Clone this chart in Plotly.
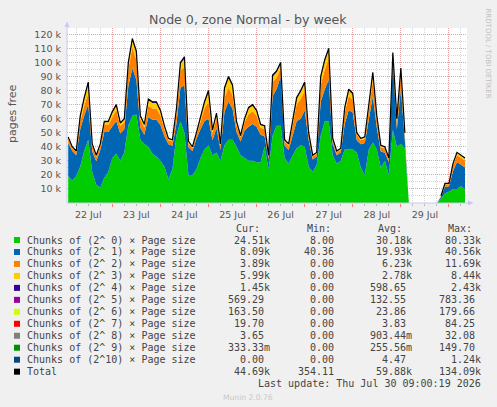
import plotly.graph_objects as go
import pandas as pd

W, H = 497, 407
N = None

# ---- data (thousands of pages), 2-hour samples starting 22 Jul 02:00 ----
times = pd.date_range("2026-07-22 02:00", periods=100, freq="2h")

green_k = [19, 16, 19, 26, 37, 45, 22, 13, 11, 18,
           22, 32, 35, 30, 36, 55, 62, 63, 45, 42,
           40, 35, 33, 30, 26, 17, 24, 48, 58, 50,
           20, 20, 24, 32, 38, 41, 34, 36, 30, 41,
           45, 45, 40, 34, 32, 30, 30, 29, 29, 40,
           24, 48, 55, 55, 32, 28, 34, 39, 41, 40,
           26, 22, 27, 48, 58, 58, 34, 28, 30, 38,
           38, 38, 36, 25, 20, 38, 43, 38, 25, 30,
           20, 52, 40, 42, 39, N, N, N, N, N,
           N, N, N, 3, 7, 8, 10, 10, 12, 10]

blue_k = [23.7, 21.0, 15.0, 26.4, 25.2, 25.0, 14.7, 16.7, 26.7, 32.5,
          28.5, 22.4, 23.3, 19.5, 16.5, 28.0, 33.8, 24.8, 8.5, 6.5,
          21.2, 24.2, 26.2, 25.4, 21.5, 24.7, 16.7, 8.4, 24.0, 33.8,
          19.7, 17.0, 21.7, 20.5, 20.3, 19.0, 10.6, 17.4, 7.7, 24.0,
          27.0, 22.0, 10.5, 9.7, 19.5, 24.2, 26.2, 25.3, 19.5, 7.5,
          7.0, 28.0, 26.0, 35.0, 8.7, 9.7, 14.4, 19.2, 19.0, 26.0,
          18.6, 9.0, 6.0, 24.0, 22.8, 29.8, 7.7, 6.0, 6.0, 18.4,
          28.2, 26.2, 8.6, 16.7, 22.7, 22.3, 33.0, 15.5, 11.7, 5.7,
          9.0, 48.2, 12.5, 39.0, 5.6, N, N, N, N, N,
          N, N, N, 1.2, 4.6, 3.8, 12.6, 19.2, 15.2, 15.2]

orange_k = [3, 2, 2, 6, 7, 8, 4, 3, 3, 5,
            5, 7, 8, 5, 5, 12, 15, 14, 6, 5,
            8, 8, 8, 7, 5, 3, 3, 7, 12, 13,
            3, 2, 3, 6, 9, 12, 5, 7, 3, 10,
            10, 10, 5, 3, 6, 9, 9, 8, 5, 5,
            2, 10, 8, 6, 3, 3, 8, 12, 14, 14,
            4, 2, 2, 12, 14, 15, 3, 2, 2, 8,
            10, 9, 4, 3, 3, 8, 11, 6, 3, 3,
            2, 4, 5, 10, 4, N, N, N, N, N,
            N, N, N, 0.6, 1.8, 1.6, 4, 5, 5, 5]

yellow_k = [1, 0.8, 0.8, 3, 5, 7, 1, 1, 1, 2,
            2, 3, 3, 2, 2, 4, 5, 5, 2, 2,
            4, 4, 4, 3, 2, 1, 1, 3, 5, 6,
            1, 0.8, 1, 3, 4, 7, 2, 3, 1, 6,
            7, 6, 2, 1, 2, 4, 4, 3, 2, 2,
            0.8, 4, 4, 3, 1, 1, 3, 4, 5, 5,
            1, 0.8, 0.8, 5, 6, 6, 1, 0.8, 0.8, 3,
            4, 4, 1, 1, 1, 3, 5, 2, 1, 1,
            0.8, 2, 2, 4, 1, N, N, N, N, N,
            N, N, N, 0.15, 0.5, 0.5, 1.1, 1.5, 1.5, 1.5]

purple_k = [0.3, 0.2, 0.2, 0.6, 0.8, 1, 0.3, 0.3, 0.3, 0.5,
            0.5, 0.6, 0.7, 0.5, 0.5, 1, 1.2, 1.2, 0.5, 0.5,
            0.8, 0.8, 0.8, 0.6, 0.5, 0.3, 0.3, 0.6, 1, 1.2,
            0.3, 0.2, 0.3, 0.5, 0.7, 1, 0.4, 0.6, 0.3, 1,
            1, 1, 0.5, 0.3, 0.5, 0.8, 0.8, 0.7, 0.5, 0.5,
            0.2, 1, 1, 1, 0.3, 0.3, 0.6, 0.8, 1, 1,
            0.4, 0.2, 0.2, 1, 1.2, 1.2, 0.3, 0.2, 0.2, 0.6,
            0.8, 0.8, 0.4, 0.3, 0.3, 0.7, 1, 0.5, 0.3, 0.3,
            0.2, 0.8, 0.5, 1, 0.4, N, N, N, N, N,
            N, N, N, 0.05, 0.1, 0.1, 0.3, 0.3, 0.3, 0.3]

total_k = [47, 40, 37, 62, 75, 86, 42, 34, 42, 58,
           58, 65, 70, 57, 60, 100, 117, 108, 62, 56,
           74, 72, 72, 66, 55, 46, 45, 67, 100, 104,
           44, 40, 50, 62, 72, 80, 52, 64, 42, 82,
           90, 84, 58, 48, 60, 68, 70, 66, 56, 55,
           34, 91, 94, 100, 45, 42, 60, 75, 80, 86,
           50, 34, 36, 90, 102, 110, 46, 37, 39, 68,
           81, 78, 50, 46, 47, 72, 93, 62, 41, 40,
           32, 107, 60, 96, 50, N, N, N, N, N,
           N, N, N, 5, 14, 14, 28, 36, 34, 32]

y_ticks = [10, 20, 30, 40, 50, 60, 70, 80, 90, 100, 110, 120]
y_tick_text = [f"{v} k" for v in y_ticks]

legend_labels = ["Chunks of (2^ 0) \u00d7 Page size", "Chunks of (2^ 1) \u00d7 Page size",
                 "Chunks of (2^ 2) \u00d7 Page size", "Chunks of (2^ 3) \u00d7 Page size",
                 "Chunks of (2^ 4) \u00d7 Page size", "Chunks of (2^ 5) \u00d7 Page size",
                 "Chunks of (2^ 6) \u00d7 Page size", "Chunks of (2^ 7) \u00d7 Page size",
                 "Chunks of (2^ 8) \u00d7 Page size", "Chunks of (2^ 9) \u00d7 Page size",
                 "Chunks of (2^10) \u00d7 Page size", "Total"]
legend_colors = ["#00CC00", "#0066B3", "#FF8000", "#FFCC00", "#330099", "#990099",
                 "#CCFF00", "#FF0000", "#808080", "#008F00", "#00487D", "#000000"]
cur_vals = ["24.51k", "8.09k", "3.89k", "5.99k", "1.45k", "569.29", "163.50", "19.70",
            "3.65", "333.33m", "0.00", "44.69k"]
min_vals = ["8.00", "40.36", "0.00", "0.00", "0.00", "0.00", "0.00", "0.00", "0.00",
            "0.00", "0.00", "354.11"]
avg_vals = ["30.18k", "19.93k", "6.23k", "2.78k", "598.65", "132.55", "23.86", "3.83",
            "903.44m", "255.56m", "4.47", "59.88k"]
max_vals = ["80.33k", "40.56k", "11.69k", "8.44k", "2.43k", "783.36", "179.66", "84.25",
            "32.08", "149.70", "1.24k", "134.09k"]
headers = ["Cur:", "Min:", "Avg:", "Max:"]

# ---- figure ----
def px(x):
    return x / W

def py(y):
    return 1 - y / H

fig = go.Figure()
series = [(green_k, "#00CC00"), (blue_k, "#0066B3"), (orange_k, "#FF8000"),
          (yellow_k, "#FFCC00"), (purple_k, "#330099")]
for vals, col in series:
    fig.add_trace(go.Scatter(x=times, y=vals, mode="lines", stackgroup="a",
                             line=dict(width=0, color=col), fillcolor=col,
                             showlegend=False, hoverinfo="skip"))
fig.add_trace(go.Scatter(x=times, y=total_k, mode="lines",
                         line=dict(width=1.2, color="#000000"), showlegend=False,
                         connectgaps=False, hoverinfo="skip"))

x_left, x_right, y_top, y_bot = 67, 467, 28, 203
ymax = (y_bot - y_top) / 14.06 * 10

fig.update_layout(
    width=W, height=H, margin=dict(l=0, r=0, t=0, b=0),
    paper_bgcolor="#F0F0F0", plot_bgcolor="#FFFFFF",
    font=dict(family="DejaVu Sans", color="#555555"),
    xaxis=dict(domain=[px(x_left), px(x_right)], type="date",
               range=["2026-07-22 01:24", "2026-07-30 09:00"],
               tick0="2026-07-22", dtick=86400000, ticklabelmode="period",
               tickformat="%d %b", tickfont=dict(size=9.5, color="#555555"),
               ticks="outside", ticklen=3, tickcolor="#FF8080",
               showgrid=True, gridcolor="#E9A0A0", griddash="1px,1px", gridwidth=1,
               minor=dict(dtick=21600000, showgrid=True, gridcolor="#D6D6D6",
                          griddash="1px,1px", ticks="outside", ticklen=2,
                          tickcolor="#BBBBBB"),
               showline=False, zeroline=False, fixedrange=True),
    yaxis=dict(domain=[py(y_bot), py(y_top)], range=[0, ymax],
               tickvals=y_ticks, ticktext=y_tick_text,
               tickfont=dict(size=9.5, color="#555555"), ticks="",
               ticklabelstandoff=5,
               showgrid=True, gridcolor="#E9A0A0", griddash="1px,1px", gridwidth=1,
               minor=dict(dtick=5, tick0=0, showgrid=True, gridcolor="#D6D6D6",
                          griddash="1px,1px"),
               showline=False, zeroline=False, fixedrange=True),
)

shapes = []
axis_col = "#C8C8F0"
shapes.append(dict(type="line", xref="paper", yref="paper", x0=px(x_left), x1=px(x_left),
                   y0=py(y_bot), y1=py(24), line=dict(color=axis_col, width=1)))
shapes.append(dict(type="line", xref="paper", yref="paper", x0=px(x_left), x1=px(470),
                   y0=py(y_bot), y1=py(y_bot), line=dict(color=axis_col, width=1)))
shapes.append(dict(type="path", xref="paper", yref="paper",
                   path=f"M {px(64.5)} {py(27)} L {px(69.5)} {py(27)} L {px(67)} {py(21.5)} Z",
                   fillcolor=axis_col, line=dict(width=0)))
shapes.append(dict(type="path", xref="paper", yref="paper",
                   path=f"M {px(468)} {py(200.5)} L {px(468)} {py(205.5)} L {px(473.5)} {py(203)} Z",
                   fillcolor=axis_col, line=dict(width=0)))

def ann(text, x, y, xa="center", font=None, angle=0):
    return dict(text=text, x=px(x), y=py(y), xref="paper", yref="paper", showarrow=False,
                xanchor=xa, yanchor="middle", textangle=angle, font=font, borderpad=0)

annotations = []
annotations.append(ann("Node 0, zone Normal - by week", 248, 19,
                       font=dict(size=12.6, color="#555555", family="DejaVu Sans")))
annotations.append(ann("pages free", 12, 114, angle=-90,
                       font=dict(size=11, color="#555555", family="DejaVu Sans")))
annotations.append(ann("RRDTOOL / TOBI OETIKER", 487.5, 53, angle=90,
                       font=dict(size=7, color="#C0C0C0", family="DejaVu Sans")))

mono = "DejaVu Sans Mono"
leg_font = dict(size=10, color="#444444", family=mono)
row0, row_step = 240, 11.97
for hx, htxt in zip([235, 305.5, 376.5, 446.5], headers):
    annotations.append(ann(htxt, hx, 228, xa="left", font=leg_font))

def pad(s):
    return s if s[-1] in "km" else s + "\u00a0"

for i, lab in enumerate(legend_labels):
    yy = row0 + i * row_step
    shapes.append(dict(type="rect", xref="paper", yref="paper", x0=px(14), x1=px(20),
                       y0=py(yy - 3), y1=py(yy + 3), fillcolor=legend_colors[i],
                       line=dict(width=0)))
    annotations.append(ann(lab, 26, yy, xa="left", font=leg_font))
    for col_x, vals in zip([271, 341, 413, 482], [cur_vals, min_vals, avg_vals, max_vals]):
        annotations.append(ann(pad(vals[i]), col_x, yy, xa="right", font=leg_font))

annotations.append(ann("Last update: Thu Jul 30 09:00:19 2026", 482, 383, xa="right",
                       font=leg_font))
annotations.append(ann("Munin 2.0.76", 248, 397,
                       font=dict(size=7.6, color="#C8C8C8", family="DejaVu Sans")))

fig.update_layout(shapes=shapes, annotations=annotations)
fig.write_html("out.html")
